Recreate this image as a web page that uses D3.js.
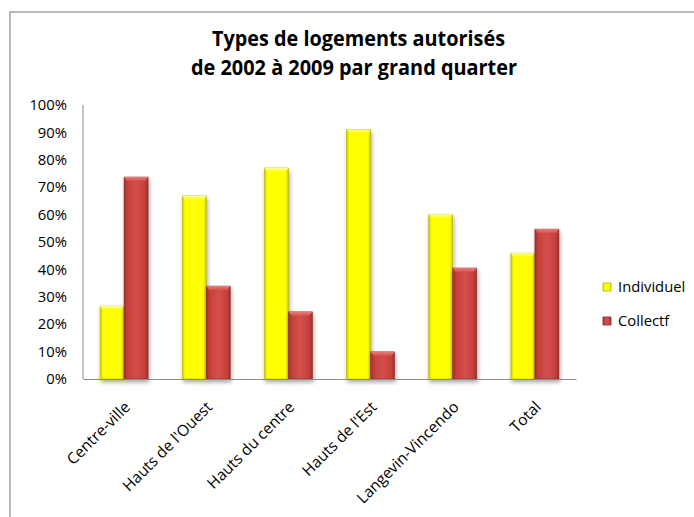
<!DOCTYPE html>
<html>
<head>
<meta charset="utf-8">
<script src="https://cdn.jsdelivr.net/npm/d3@7"></script>
<style>
  html, body { margin: 0; padding: 0; background: #fff; }
  svg { display: block; }
  text { font-family: "Open Sans", "DejaVu Sans", sans-serif; fill: #000; }
</style>
</head>
<body>
<svg id="chart" width="694" height="517"></svg>
<script>
// ---- data ----
const categories = ["Centre-ville", "Hauts de l'Ouest", "Hauts du centre", "Hauts de l'Est", "Langevin-Vincendo", "Total"];
const seriesNames = ["Individuel", "Collectf"];
const individuel = [26.6, 66.8, 77.0, 91.1, 60.1, 45.9];
const collectif = [73.7, 33.9, 24.5, 9.9, 40.5, 54.7];
const yTicks = [0, 10, 20, 30, 40, 50, 60, 70, 80, 90, 100];
const titleLines = ["Types de logements autorisés", "de 2002 à 2009 par grand quarter"];

const seriesValues = [individuel, collectif];
const rows = categories.map((c, i) => ({
  cat: c,
  vals: seriesNames.map((s, j) => ({ series: s, value: seriesValues[j][i] }))
}));

const svg = d3.select("#chart");
const plot = { left: 83, right: 576, top: 105, bottom: 379 };

// ---- defs ----
const defs = svg.append("defs");
const redG = defs.append("linearGradient").attr("id", "gRed").attr("x1", "0").attr("x2", "1").attr("y1", "0").attr("y2", "0");
[["0%", "#9e302d"], ["14%", "#c43f3b"], ["50%", "#d5504c"], ["86%", "#c43f3b"], ["100%", "#9e302d"]]
  .forEach(([o, c]) => redG.append("stop").attr("offset", o).attr("stop-color", c));
const yelG = defs.append("linearGradient").attr("id", "gYel").attr("x1", "0").attr("x2", "1").attr("y1", "0").attr("y2", "0");
[["0%", "#c9c900"], ["12%", "#ffff00"], ["88%", "#ffff00"], ["100%", "#c9c900"]]
  .forEach(([o, c]) => yelG.append("stop").attr("offset", o).attr("stop-color", c));
const redTop = defs.append("linearGradient").attr("id", "gRedTop").attr("x1", "0").attr("x2", "0").attr("y1", "0").attr("y2", "1");
[["0%", "#e87b77"], ["100%", "#d5504c"]].forEach(([o, c]) => redTop.append("stop").attr("offset", o).attr("stop-color", c));
const yelTop = defs.append("linearGradient").attr("id", "gYelTop").attr("x1", "0").attr("x2", "0").attr("y1", "0").attr("y2", "1");
[["0%", "#ffff99"], ["100%", "#ffff00"]].forEach(([o, c]) => yelTop.append("stop").attr("offset", o).attr("stop-color", c));
const f = defs.append("filter").attr("id", "shadow").attr("x", "-30%").attr("y", "-10%").attr("width", "160%").attr("height", "130%");
f.append("feDropShadow").attr("dx", 1).attr("dy", 3).attr("stdDeviation", 2).attr("flood-color", "#000").attr("flood-opacity", 0.35);
const gf = defs.append("filter").attr("id", "gshadow").attr("x", "-5%").attr("y", "-200%").attr("width", "110%").attr("height", "500%");
gf.append("feDropShadow").attr("dx", 0).attr("dy", 1).attr("stdDeviation", 0.6).attr("flood-color", "#000").attr("flood-opacity", 0.25);

// ---- outer chart border ----
svg.append("rect").attr("x", 10).attr("y", 12).attr("width", 720).attr("height", 540)
  .attr("fill", "#fff").attr("stroke", "#a3a3a3").attr("stroke-width", 1.5);

// ---- scales ----
const x0 = d3.scaleBand().domain(categories).range([plot.left, plot.right]).paddingInner(0.416).paddingOuter(0.208);
const x1 = d3.scaleBand().domain(seriesNames).range([0, x0.bandwidth()]).padding(0);
const y = d3.scaleLinear().domain([0, 100]).range([plot.bottom, plot.top]);
const fills = { "Individuel": "url(#gYel)", "Collectf": "url(#gRed)" };
const topFills = { "Individuel": "url(#gYelTop)", "Collectf": "url(#gRedTop)" };
const strokes = { "Individuel": "#b5b500", "Collectf": "#8e2b28" };

// ---- gridlines ----
const grid = svg.append("g").attr("transform", `translate(${plot.left},0)`)
  .call(d3.axisLeft(y).tickValues(yTicks).tickSize(-(plot.right - plot.left)).tickFormat(""));
grid.select(".domain").remove();
grid.selectAll(".tick line").attr("stroke", "#8a8a8a").attr("stroke-width", 1).attr("filter", "url(#gshadow)");

// left plot border
svg.append("line").attr("x1", plot.left).attr("x2", plot.left).attr("y1", y(100)).attr("y2", y(0))
  .attr("stroke", "#8a8a8a").attr("stroke-width", 1);

// ---- y labels ----
const yAxis = svg.append("g").attr("transform", `translate(${plot.left},0)`)
  .call(d3.axisLeft(y).tickValues(yTicks).tickSize(0).tickPadding(16).tickFormat(d => d + "%"));
yAxis.select(".domain").remove();
yAxis.selectAll("text").attr("font-size", 14.8).attr("font-family", "Open Sans").attr("fill", "#000");

// ---- bars ----
const groups = svg.append("g").selectAll("g").data(rows).join("g")
  .attr("transform", d => `translate(${x0(d.cat)},0)`);
const bar = groups.selectAll("g").data(d => d.vals).join("g").attr("filter", "url(#shadow)");
bar.append("rect")
  .attr("x", d => x1(d.series))
  .attr("y", d => y(d.value))
  .attr("width", x1.bandwidth())
  .attr("height", d => y(0) - y(d.value))
  .attr("fill", d => fills[d.series])
  .attr("stroke", d => strokes[d.series]).attr("stroke-width", 0.6);
bar.append("path")
  .attr("d", d => {
    const xa = x1(d.series), w = x1.bandwidth(), yt = y(d.value), h = 4;
    return `M${xa},${yt}L${xa + w},${yt}L${xa + w - 3},${yt + h}L${xa + 3},${yt + h}Z`;
  })
  .attr("fill", d => topFills[d.series]);

// ---- x labels ----
const xAxis = svg.append("g").attr("transform", `translate(0,${plot.bottom})`)
  .call(d3.axisBottom(x0).tickSize(0));
xAxis.select(".domain").attr("stroke", "#8a8a8a");
xAxis.selectAll("text")
  .attr("font-size", 15.5).attr("font-family", "Open Sans").attr("fill", "#000")
  .attr("text-anchor", "end").attr("x", 0).attr("y", 0).attr("dy", 0)
  .attr("transform", "translate(7,29) rotate(-45)");

// ---- title ----
const title = svg.append("g");
[[titleLines[0], 358.5, 46, 293], [titleLines[1], 354, 75, 326]].forEach(([t, cx, by, w]) => {
  title.append("text").attr("x", cx).attr("y", by).attr("text-anchor", "middle")
    .attr("font-size", 21).attr("font-weight", "bold")
    .attr("textLength", w).attr("lengthAdjust", "spacingAndGlyphs").text(t);
});

// ---- legend ----
const legend = svg.append("g").selectAll("g").data(seriesNames).join("g")
  .attr("transform", (d, i) => `translate(603,${283 + i * 34})`);
legend.append("rect").attr("width", 8).attr("height", 8)
  .attr("fill", d => fills[d]).attr("stroke", d => strokes[d]).attr("stroke-width", 0.8);
legend.append("text").attr("x", 15).attr("y", 8.7).attr("font-size", 14.8).text(d => d);
</script>
</body>
</html>
